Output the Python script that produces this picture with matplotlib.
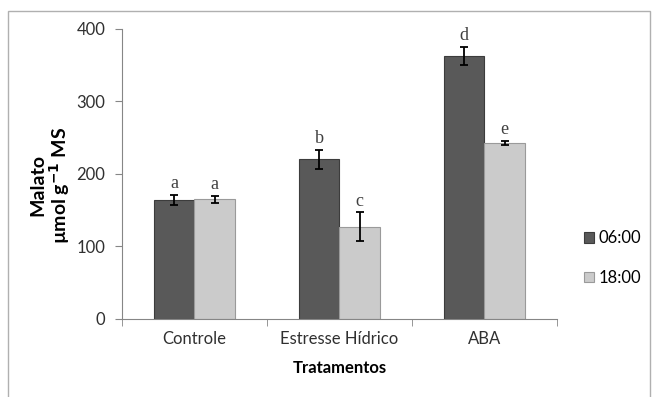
import matplotlib
matplotlib.use("Agg")
import matplotlib.pyplot as plt
from matplotlib.patches import Rectangle
import numpy as np

categories = ["Controle", "Estresse Hídrico", "ABA"]
series_names = ["06:00", "18:00"]
values_0600 = [164, 220, 363]
values_1800 = [165, 127, 243]
err_0600 = [7, 13, 12]
err_1800 = [5, 20, 3]
letters_0600 = ["a", "b", "d"]
letters_1800 = ["a", "c", "e"]
y_ticks = [0, 100, 200, 300, 400]

plt.rcParams["font.family"] = ["Lato", "DejaVu Sans"]

fig = plt.figure(figsize=(6.54, 3.97), dpi=100)
ax = fig.add_axes([0.1865, 0.1965, 0.665, 0.7305])

# outer chart frame
fig.patches.append(Rectangle((8 / 654, -0.1), 642 / 654, 1.1 - 11 / 397,
                             transform=fig.transFigure, fill=False,
                             edgecolor="#b0b0b0", linewidth=1.0))

x = np.arange(len(categories))
w = 0.28
dark = "#595959"
light = "#cbcbcb"
ax.bar(x - w / 2, values_0600, w, color=dark, edgecolor="#3c3c3c",
       linewidth=0.8, label=series_names[0], zorder=2)
ax.bar(x + w / 2, values_1800, w, color=light, edgecolor="#9a9a9a",
       linewidth=0.8, label=series_names[1], zorder=2)
ax.errorbar(x - w / 2, values_0600, yerr=err_0600, fmt="none", ecolor="black",
            elinewidth=1.3, capsize=3, capthick=1.3, zorder=3)
ax.errorbar(x + w / 2, values_1800, yerr=err_1800, fmt="none", ecolor="black",
            elinewidth=1.3, capsize=3, capthick=1.3, zorder=3)

for xi, v, e, t in zip(x - w / 2, values_0600, err_0600, letters_0600):
    ax.text(xi, v + e + 4, t, ha="center", va="bottom", fontsize=13,
            family="Liberation Serif", color="#404040")
for xi, v, e, t in zip(x + w / 2, values_1800, err_1800, letters_1800):
    ax.text(xi, v + e + 4, t, ha="center", va="bottom", fontsize=13,
            family="Liberation Serif", color="#404040")

ax.set_xlim(-0.5, 2.5)
ax.set_ylim(0, 400)
ax.set_yticks(y_ticks)
ax.set_xticks(x)
ax.set_xticklabels(categories, fontsize=12, color="#303030")
ax.set_xticks([-0.5, 0.5, 1.5, 2.5], minor=True)
ax.tick_params(axis="x", which="major", length=0, pad=9)
ax.tick_params(axis="x", which="minor", length=5, color="#868686")
ax.tick_params(axis="y", length=5, color="#868686", labelsize=12,
               labelcolor="#303030", pad=7)

for s in ["top", "right"]:
    ax.spines[s].set_visible(False)
for s in ["left", "bottom"]:
    ax.spines[s].set_color("#868686")

ax.set_xlabel("Tratamentos", fontsize=12, fontweight="bold", labelpad=9)
ax.set_ylabel("Malato\nµmol g$^{\\mathbf{-1}}$ MS", fontsize=14,
              fontweight="bold", linespacing=1.0)
ax.yaxis.set_label_coords(-0.116, 0.462)

ax.legend(loc="center left", bbox_to_anchor=(0.893, 0.35),
          bbox_transform=fig.transFigure, frameon=False, fontsize=12,
          handlelength=0.6, handleheight=0.6, handletextpad=0.25,
          labelspacing=1.4, borderpad=0, borderaxespad=0)

fig.savefig("out.png", dpi=100)
plt.close(fig)
